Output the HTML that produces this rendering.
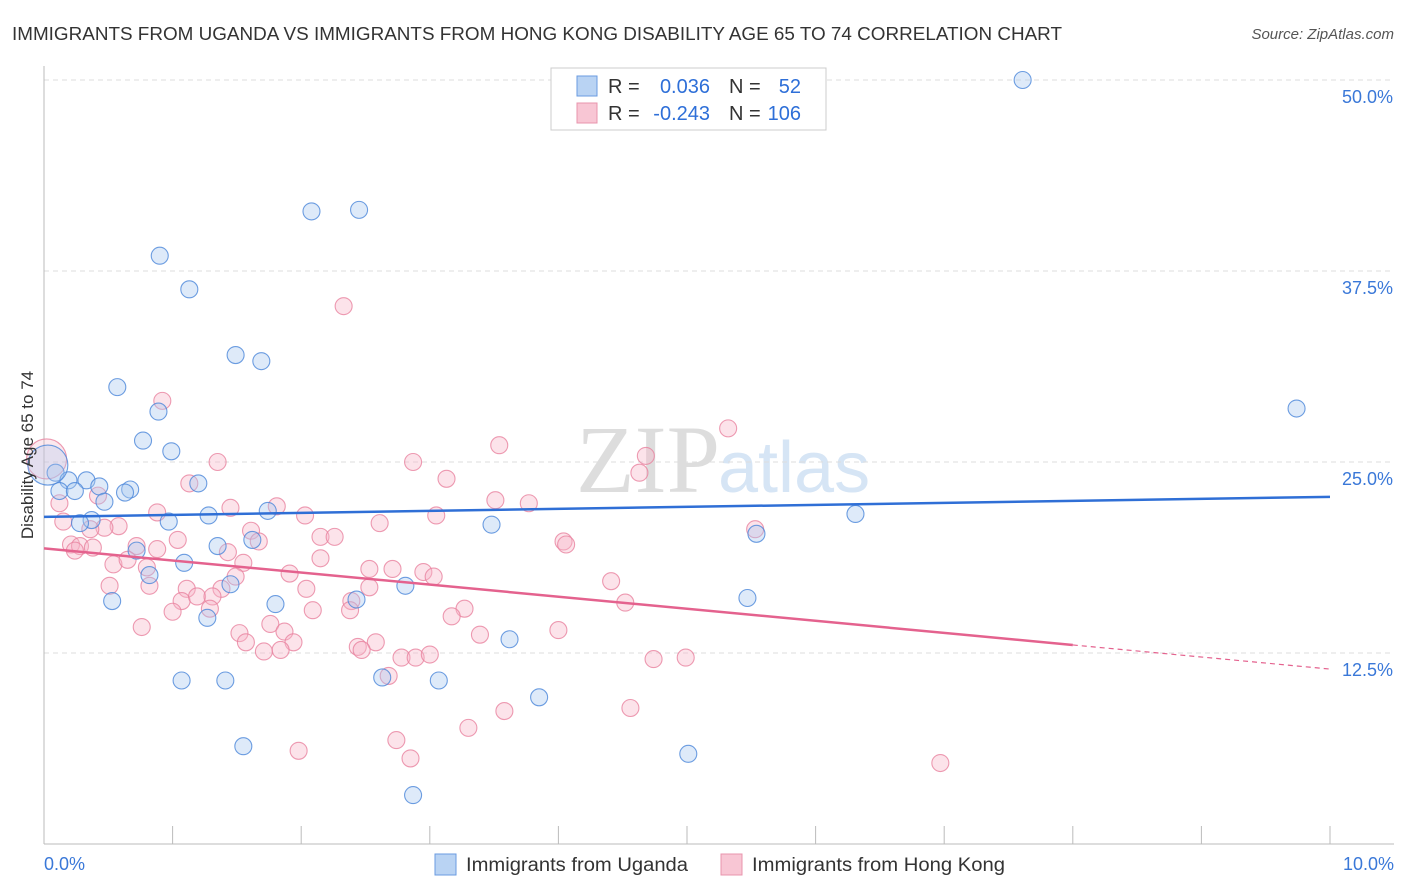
<!DOCTYPE html>
<html><head><meta charset="utf-8"><style>
body{margin:0;background:#fff;font-family:"Liberation Sans",sans-serif;}
#c{position:absolute;left:0;top:0;}
</style></head><body>
<svg id="c" width="1406" height="892" xmlns="http://www.w3.org/2000/svg">
<text x="12" y="40" font-size="18" fill="#333" textLength="1050" lengthAdjust="spacingAndGlyphs">IMMIGRANTS FROM UGANDA VS IMMIGRANTS FROM HONG KONG DISABILITY AGE 65 TO 74 CORRELATION CHART</text>
<text x="1394" y="39" font-size="15" fill="#555" font-style="italic" text-anchor="end">Source: ZipAtlas.com</text>
<text x="720" y="492" font-size="96" fill="#ddd" text-anchor="end" font-family="Liberation Serif">ZIP</text>
<text x="718" y="492" font-size="72" fill="#d6e5f5">atlas</text>
<g id="grid"></g><g id="axes"></g><g id="pts"></g><g id="lines"></g>
<text transform="translate(33,455) rotate(-90)" font-size="17" fill="#333" text-anchor="middle">Disability Age 65 to 74</text>
<g>
<rect x="551" y="68" width="275" height="62" fill="#fff" stroke="#ccc"/>
<rect x="577" y="76" width="20" height="20" fill="#b9d3f3" stroke="#6a9be0"/>
<rect x="577" y="103" width="20" height="20" fill="#f8c6d4" stroke="#e894ad"/>
<text x="608" y="93" font-size="20" fill="#333">R =</text><text x="710" y="93" font-size="20" fill="#2e6fd8" text-anchor="end">0.036</text>
<text x="729" y="93" font-size="20" fill="#333">N =</text><text x="801" y="93" font-size="20" fill="#2e6fd8" text-anchor="end">52</text>
<text x="608" y="120" font-size="20" fill="#333">R =</text><text x="710" y="120" font-size="20" fill="#2e6fd8" text-anchor="end">-0.243</text>
<text x="729" y="120" font-size="20" fill="#333">N =</text><text x="801" y="120" font-size="20" fill="#2e6fd8" text-anchor="end">106</text>
</g>
<g>
<rect x="435" y="854" width="21" height="21" fill="#b9d3f3" stroke="#6a9be0"/>
<text x="466" y="871" font-size="19" fill="#333" textLength="222" lengthAdjust="spacingAndGlyphs">Immigrants from Uganda</text>
<rect x="721" y="854" width="21" height="21" fill="#f8c6d4" stroke="#e894ad"/>
<text x="752" y="871" font-size="19" fill="#333" textLength="253" lengthAdjust="spacingAndGlyphs">Immigrants from Hong Kong</text>
</g>
</svg>
<script>
const yTicks=[12.5,25,37.5,50];
const yTickLabels=["12.5%","25.0%","37.5%","50.0%"];
const xTicks=[0,1,2,3,4,5,6,7,8,9,10];
const ugandaX=[7.61,2.08,2.45,0.90,1.13,1.49,1.69,0.57,0.89,0.77,0.99,9.74,0.09,0.19,0.33,0.43,0.67,0.12,0.24,0.63,0.47,1.20,1.28,1.74,0.97,0.37,0.28,3.48,5.54,6.31,1.62,1.35,0.72,1.09,0.82,1.45,2.81,0.53,1.80,2.43,5.47,1.27,3.62,1.07,1.41,2.63,3.07,3.85,1.55,5.01,2.87,0.03];
const ugandaY=[50.0,41.4,41.5,38.5,36.3,32.0,31.6,29.9,28.3,26.4,25.7,28.5,24.3,23.8,23.8,23.4,23.2,23.1,23.1,23.0,22.4,23.6,21.5,21.8,21.1,21.2,21.0,20.9,20.3,21.6,19.9,19.5,19.2,18.4,17.6,17.0,16.9,15.9,15.7,16.0,16.1,14.8,13.4,10.7,10.7,10.9,10.7,9.6,6.4,5.9,3.2,24.8];
const hkX=[2.33,0.92,5.32,3.54,4.68,1.35,2.87,4.63,3.13,1.13,3.51,3.77,1.81,1.45,0.12,0.42,0.88,2.03,3.05,2.61,0.58,0.47,0.15,0.36,1.61,5.53,2.15,2.26,4.04,4.06,1.04,1.67,0.21,0.28,0.38,0.24,0.72,0.88,1.43,2.15,1.55,0.54,0.65,0.80,1.91,2.53,2.71,2.95,3.03,1.49,4.41,0.51,0.82,1.11,1.38,2.04,2.53,4.52,1.07,1.19,1.31,2.39,1.29,3.27,1.00,2.09,2.38,0.76,1.76,1.52,1.87,3.17,3.39,4.00,1.57,1.94,2.58,2.44,2.47,1.71,1.84,2.78,2.89,3.00,4.74,4.99,2.68,4.56,3.58,3.30,2.74,1.98,2.85,6.97,0.02];
const hkY=[35.2,29.0,27.2,26.1,25.4,25.0,25.0,24.3,23.9,23.6,22.5,22.3,22.1,22.0,22.3,22.8,21.7,21.5,21.5,21.0,20.8,20.7,21.1,20.6,20.5,20.6,20.1,20.1,19.8,19.6,19.9,19.8,19.6,19.5,19.4,19.2,19.5,19.3,19.1,18.7,18.4,18.3,18.6,18.1,17.7,18.0,18.0,17.8,17.5,17.5,17.2,16.9,16.9,16.7,16.7,16.7,16.8,15.8,15.9,16.2,16.2,15.9,15.4,15.4,15.2,15.3,15.3,14.2,14.4,13.8,13.9,14.9,13.7,14.0,13.2,13.2,13.2,12.9,12.7,12.6,12.7,12.2,12.2,12.4,12.1,12.2,11.0,8.9,8.7,7.6,6.8,6.1,5.6,5.3,25.2];
const X0=44,X1=1330,Y0=844,PX=764/50;
const sx=v=>X0+(X1-X0)*v/10, sy=v=>Y0-v*PX;
const NS="http://www.w3.org/2000/svg";
function mk(tag,attrs,parent){const e=document.createElementNS(NS,tag);for(const k in attrs)e.setAttribute(k,attrs[k]);parent.appendChild(e);return e;}
const grid=document.getElementById('grid'),axes=document.getElementById('axes'),pts=document.getElementById('pts'),lines=document.getElementById('lines');
yTicks.forEach((t,i)=>{
 const l=mk('line',{x1:X0,x2:1394,y1:sy(t),y2:sy(t),stroke:'#ddd','stroke-dasharray':'5,4'},grid);
 
 
 const tx=mk('text',{x:1393,y:sy(t)+23,'font-size':18,fill:'#3a78d8','text-anchor':'end'},axes);
 tx.textContent=yTickLabels[i];
 
 
});
const ya=mk('line',{x1:X0,x2:X0,y1:66,y2:Y0,stroke:'#bbb'},axes);


const xa=mk('line',{x1:X0,x2:1394,y1:Y0,y2:Y0,stroke:'#bbb'},axes);


xTicks.forEach(t=>{const l=mk('line',{x1:sx(t),x2:sx(t),y1:Y0-18,y2:Y0,stroke:'#bbb'},axes);
 
 });
const xl0=mk('text',{x:44,y:870,'font-size':18,fill:'#3a78d8'},axes);xl0.textContent='0.0%';


const xl1=mk('text',{x:1394,y:870,'font-size':18,fill:'#3a78d8','text-anchor':'end'},axes);xl1.textContent='10.0%';


function dots(xs,ys,fill,stroke,name){xs.forEach((x,i)=>{const big=(x<0.05);
 const c=mk('circle',{cx:sx(x),cy:sy(ys[i]),r:big?20:8.5,fill:fill,'fill-opacity':big?0.3:0.38,stroke:stroke,'stroke-opacity':0.8,'stroke-width':1.1},pts);
 
 });}
dots(hkX,hkY,'#f6b5c8','#e8829f','point-hongkong');
dots(ugandaX,ugandaY,'#a9c8ef','#4a86da','point-uganda');
function fit(xs,ys){const n=xs.length;let mx=0,my=0;xs.forEach((x,i)=>{mx+=x;my+=ys[i];});mx/=n;my/=n;let a=0,b=0;xs.forEach((x,i)=>{a+=(x-mx)*(ys[i]-my);b+=(x-mx)*(x-mx);});const s=a/b;return [s,my-s*mx];}
const fu=fit(ugandaX,ugandaY),fh=fit(hkX,hkY);
const bl=mk('line',{x1:sx(0),y1:sy(fu[1]),x2:sx(10),y2:sy(fu[1]+10*fu[0]),stroke:'#2f6fd6','stroke-width':2.5},lines);


const pl=mk('line',{x1:sx(0),y1:sy(fh[1]),x2:sx(8),y2:sy(fh[1]+8*fh[0]),stroke:'#e4628e','stroke-width':2.5},lines);


const pd=mk('line',{x1:sx(8),y1:sy(fh[1]+8*fh[0]),x2:sx(10),y2:sy(fh[1]+10*fh[0]),stroke:'#e4628e','stroke-width':1.2,'stroke-dasharray':'5,4'},lines);


</script>
</body></html>
